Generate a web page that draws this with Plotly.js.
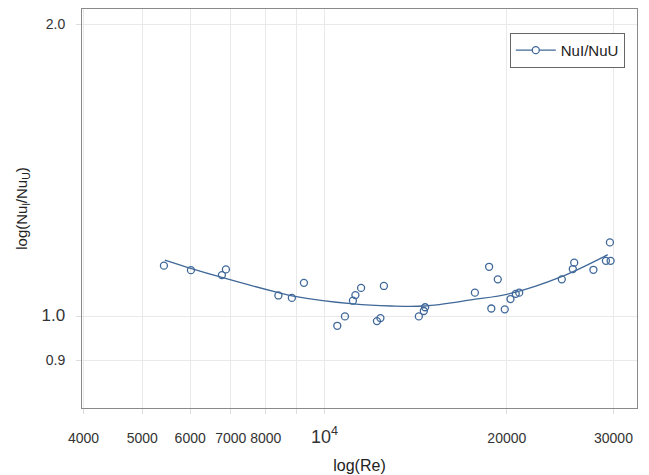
<!DOCTYPE html>
<html>
<head>
<meta charset="utf-8">
<script src="https://cdn.plot.ly/plotly-3.0.1.min.js"></script>
<style>html,body{margin:0;padding:0;background:#fff;}#chart{width:649px;height:475px;}</style>
</head>
<body>
<div id="chart"></div>
<script>
// Measured data points: Reynolds number and Nu ratio
const reValues = [5430, 6017, 6769, 6873, 8391, 8832, 9247, 10497, 10807, 11140, 11246, 11491,
  12205, 12368, 12533, 14314, 14587, 14659, 17714, 18699, 18855, 19325, 19844, 20277, 20688,
  20964, 24650, 25704, 25841, 27797, 29152, 29598, 29676];
const nuRatio = [1.127, 1.115, 1.102, 1.117, 1.050, 1.044, 1.082, 0.977, 0.999, 1.037, 1.051, 1.069,
  0.988, 0.995, 1.074, 0.999, 1.012, 1.021, 1.057, 1.124, 1.018, 1.091, 1.016, 1.041, 1.054,
  1.057, 1.091, 1.118, 1.135, 1.116, 1.140, 1.191, 1.140];

// Fitted curve
const fitRe = [5449, 6012, 6769, 8391, 8835, 11160, 12889, 14602, 17451, 20301, 24628, 28906, 29348];
const fitNu = [1.142, 1.120, 1.096, 1.057, 1.049, 1.029, 1.024, 1.024, 1.039, 1.055, 1.098, 1.151, 1.157];

// Tick labels
const xTickVals = [4000, 5000, 6000, 7000, 8000, 9000, 10000, 20000, 30000];
const xTickText = ['4000', '5000', '6000', '7000', '8000', '',
  '<span style="font-size:18px">10<sup>4</sup></span>', '20000', '30000'];
const yTickVals = [0.9, 1.0, 2.0];
const yTickText = ['0.9', '<span style="font-size:17px">1.0</span>', '2.0'];
const seriesName = 'NuI/NuU';

const col = '#3f6899';
const traces = [
  {x: fitRe, y: fitNu, type: 'scatter', mode: 'lines', line: {color: col, width: 1.3, shape: 'spline', smoothing: 1}, showlegend: false, hoverinfo: 'skip'},
  {x: reValues, y: nuRatio, type: 'scatter', mode: 'markers', showlegend: false,
   marker: {symbol: 'circle-open', size: 7, color: col, line: {width: 1.3, color: col}}},
  {x: [null], y: [null], type: 'scatter', mode: 'lines+markers', name: seriesName,
   line: {color: col, width: 1.3}, marker: {symbol: 'circle', size: 7, color: '#fff', line: {width: 1.3, color: col}}}
];

const axisCommon = {
  showline: true, mirror: true, linecolor: '#8a8a8a', linewidth: 1,
  showgrid: true, gridcolor: '#e9e9e9', gridwidth: 1,
  ticks: 'outside', ticklen: 5, tickcolor: '#dddddd',
  zeroline: false, tickfont: {family: 'Liberation Sans, Arial, sans-serif', size: 14, color: '#333'}
};

const layout = {
  width: 649, height: 475,
  margin: {l: 82, r: 12, t: 9, b: 67},
  paper_bgcolor: '#fff', plot_bgcolor: '#fff',
  font: {family: 'Liberation Sans, Arial, sans-serif', color: '#222'},
  xaxis: Object.assign({}, axisCommon, {
    type: 'log', range: [3.5995, 4.516],
    tickmode: 'array', tickvals: xTickVals, ticktext: xTickText,
    ticklabelstandoff: 12,
    title: {text: 'log(Re)', font: {size: 16, color: '#222'}, standoff: 14}
  }),
  yaxis: Object.assign({}, axisCommon, {
    type: 'log', range: [-0.0949, 0.3167],
    tickmode: 'array', tickvals: yTickVals, ticktext: yTickText,
    ticklabelstandoff: 8,
    title: {text: 'log(Nu<sub>l</sub>/Nu<sub>U</sub>)', font: {size: 15, color: '#222'}, standoff: 10}
  }),
  legend: {x: 0.978, y: 0.94, xanchor: 'right', yanchor: 'top',
    bordercolor: '#666', borderwidth: 1, bgcolor: '#fff',
    font: {size: 15, color: '#222'}, itemwidth: 40},
  showlegend: true
};

Plotly.newPlot('chart', traces, layout, {displayModeBar: false, staticPlot: true});
</script>
</body>
</html>
